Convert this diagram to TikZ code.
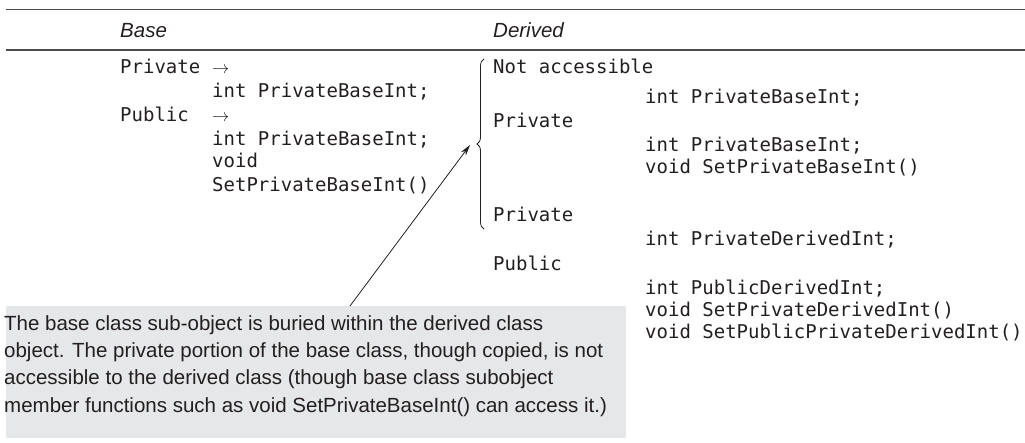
\documentclass[tikz,border=0pt]{standalone}
\usepackage{fontspec}
\usetikzlibrary{arrows.meta,decorations.pathreplacing}
\newfontfamily\codefam{DejaVu Sans Mono}
\newfontfamily\notefam{Liberation Sans}
\definecolor{ink}{HTML}{231F20}
\definecolor{boxgray}{HTML}{E6E7E8}
\definecolor{rulegray}{HTML}{4D4D4D}
\tikzset{
  code/.style={font=\codefam\fontsize{19pt}{21pt}\selectfont, anchor=base west, inner sep=0pt, text=ink},
  notetext/.style={font=\notefam\fontsize{20.5pt}{26pt}\selectfont, anchor=base west, inner sep=0pt, text=ink},
  head/.style={font=\notefam\itshape\fontsize{20.5pt}{22pt}\selectfont, anchor=base west, inner sep=0pt, text=ink},
  notebox/.style={fill=boxgray, draw=none, minimum width=620pt, minimum height=132pt, inner sep=0pt},
  rule/.style={draw=rulegray, line width=1.1pt},
  ptr/.style={draw=ink, line width=0.8pt, -{Stealth[length=11pt,width=6pt]}},
  bracestyle/.style={draw=ink, line width=0.8pt, decorate, decoration={brace, amplitude=7pt}}
}
\begin{document}
\begin{tikzpicture}[x=1pt,y=-1pt]
\useasboundingbox (0,0) rectangle (1025,442);
% rules
\coordinate (r1a) at (6,9.5); \coordinate (r1b) at (1025,9.5);
\coordinate (r2a) at (6,50); \coordinate (r2b) at (1025,50);
\draw[rule] (r1a) -- (r1b);
\draw[rule] (r2a) -- (r2b);
% headers
\node[head] (hbase) at (120,37) {Base};
\node[head] (hder) at (493,37) {Derived};
% left column
\node[code] (lp1) at (120,73) {Private};
\node[code] (la1) at (212,73) {$\rightarrow$};
\node[code] (li1) at (212,97) {int PrivateBaseInt;};
\node[code] (lp2) at (120,121) {Public};
\node[code] (la2) at (212,121) {$\rightarrow$};
\node[code] (li2) at (212,145) {int PrivateBaseInt;};
\node[code] (lv) at (212,167) {void};
\node[code] (ls) at (212,191) {SetPrivateBaseInt()};
% right column
\node[code] (rna) at (493,73) {Not accessible};
\node[code] (ri1) at (645,103) {int PrivateBaseInt;};
\node[code] (rp1) at (493,127) {Private};
\node[code] (ri2) at (645,151) {int PrivateBaseInt;};
\node[code] (rv1) at (645,173) {void SetPrivateBaseInt()};
\node[code] (rp2) at (493,221) {Private};
\node[code] (ri3) at (645,245) {int PrivateDerivedInt;};
\node[code] (rpu) at (493,270) {Public};
\node[code] (ri4) at (645,294) {int PublicDerivedInt;};
\node[code] (rv2) at (645,316) {void SetPrivateDerivedInt()};
\node[code] (rv3) at (645,338) {void SetPublicPrivateDerivedInt()};
% brace
\coordinate (btop) at (484,59);
\coordinate (bbot) at (484,229);
\coordinate (btip) at (470,145);
\draw[bracestyle] (bbot) -- (btop);
% note box
\node[notebox] (note) at (316,372) {};
\node[notetext] (n1) at (4,330) {The base class sub-object is buried within the derived class};
\node[notetext] (n2) at (4,357) {object. The private portion of the base class, though copied, is not};
\node[notetext] (n3) at (4,384.5) {accessible to the derived class (though base class subobject};
\node[notetext] (n4) at (4,412) {member functions such as void SetPrivateBaseInt() can access it.)};
% pointer
\coordinate (tail) at (350,306);
\draw[ptr] (tail) -- (btip);
\end{tikzpicture}
\end{document}
